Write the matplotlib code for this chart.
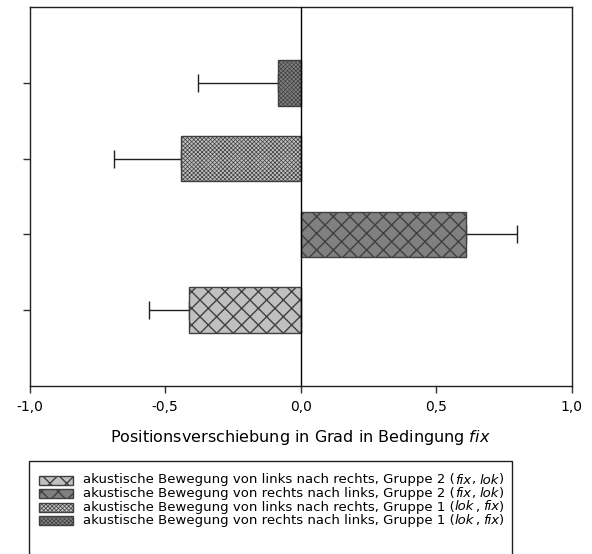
import matplotlib
matplotlib.use("Agg")
import matplotlib.pyplot as plt
from matplotlib.patches import Rectangle
from matplotlib.ticker import FuncFormatter

plt.rcParams['font.family'] = ['DejaVu Sans']
plt.rcParams['axes.unicode_minus'] = False

# data, bottom bar first
directions = ["links nach rechts", "rechts nach links", "links nach rechts", "rechts nach links"]
groups = ["Gruppe 2", "Gruppe 2", "Gruppe 1", "Gruppe 1"]
conditions = [("fix", "lok"), ("fix", "lok"), ("lok", "fix"), ("lok", "fix")]
means = [-0.41, 0.61, -0.44, -0.085]
errors = [0.15, 0.19, 0.25, 0.295]

faces = ['#c0c0c0', '#808080', '#c0c0c0', '#808080']
hatches = ['xx', 'xx', 'xxxxxxxx', 'xxxxxxxx']
hatch_lw = [1.0, 1.0, 0.5, 0.5]

W, H = 592, 554
fig = plt.figure(figsize=(W / 100, H / 100), dpi=100)
ax = fig.add_axes([29.5 / W, 1 - 386 / H, (571.7 - 29.5) / W, (386 - 7) / H])

pos = [1, 2, 3, 4]
bars = ax.barh(pos, means, height=0.6, color=faces, edgecolor='#404040',
               linewidth=1, zorder=2)
for b, h, lw in zip(bars, hatches, hatch_lw):
    b.set_hatch(h)
    try:
        b.set_hatch_linewidth(lw)
    except AttributeError:
        pass

# error bars only on the side away from zero
lo = [e if m < 0 else 0 for m, e in zip(means, errors)]
hi = [e if m > 0 else 0 for m, e in zip(means, errors)]
ax.errorbar(means, pos, xerr=[lo, hi], fmt='none', ecolor='#202020',
            elinewidth=1, capsize=6.5, capthick=1, zorder=1)

ax.axvline(0, color='black', linewidth=1, zorder=3)

ax.set_xlim(-1, 1)
ax.set_ylim(0, 5)
ax.set_xticks([-1, -0.5, 0, 0.5, 1])
ax.xaxis.set_major_formatter(FuncFormatter(lambda v, p: f"{v:.1f}".replace('.', ',')))
ax.set_yticks(pos)
ax.set_yticklabels([])
ax.tick_params(axis='both', direction='out', length=5, width=1, colors='#303030',
               labelsize=10, labelcolor='black')
ax.tick_params(axis='x', pad=5)
for s in ax.spines.values():
    s.set_color('#202020')
    s.set_linewidth(1)

ax.set_xlabel(r"Positionsverschiebung in Grad in Bedingung $\mathit{fix}$",
              fontsize=11.5, labelpad=10)

# legend, built by hand so the condition names can be italic
fig.patches.append(Rectangle((29 / W, -0.02), (512 - 29) / W, 0.02 + (554 - 461) / H,
                             transform=fig.transFigure, fill=False,
                             edgecolor='#202020', linewidth=1))
fs = 9.5
space = 0.318 * fs
row_y = 480
for i in range(4):
    yc = 1 - row_y / H
    sw = Rectangle((39 / W, yc - 4.5 / H), 34 / W, 9 / H, transform=fig.transFigure,
                   facecolor=faces[i], edgecolor='#404040', hatch=hatches[i], linewidth=1)
    try:
        sw.set_hatch_linewidth(hatch_lw[i])
    except AttributeError:
        pass
    fig.patches.append(sw)
    parts = [(f"akustische Bewegung von {directions[i]}, {groups[i]} (", 'normal', 0),
             (conditions[i][0], 'italic', 0),
             (",", 'normal', 0.3),
             (conditions[i][1], 'italic', space),
             (")", 'normal', 0.3)]
    prev = fig.text(83 / W, yc, parts[0][0], fontsize=fs, va='center', ha='left')
    for s, style, gap in parts[1:]:
        prev = ax.annotate(s, xy=(1, 0), xycoords=prev, xytext=(gap, 0),
                           textcoords='offset points', va='bottom', ha='left',
                           fontsize=fs, style=style, annotation_clip=False)
    row_y += 13.5

fig.savefig("out.png", dpi=100)
